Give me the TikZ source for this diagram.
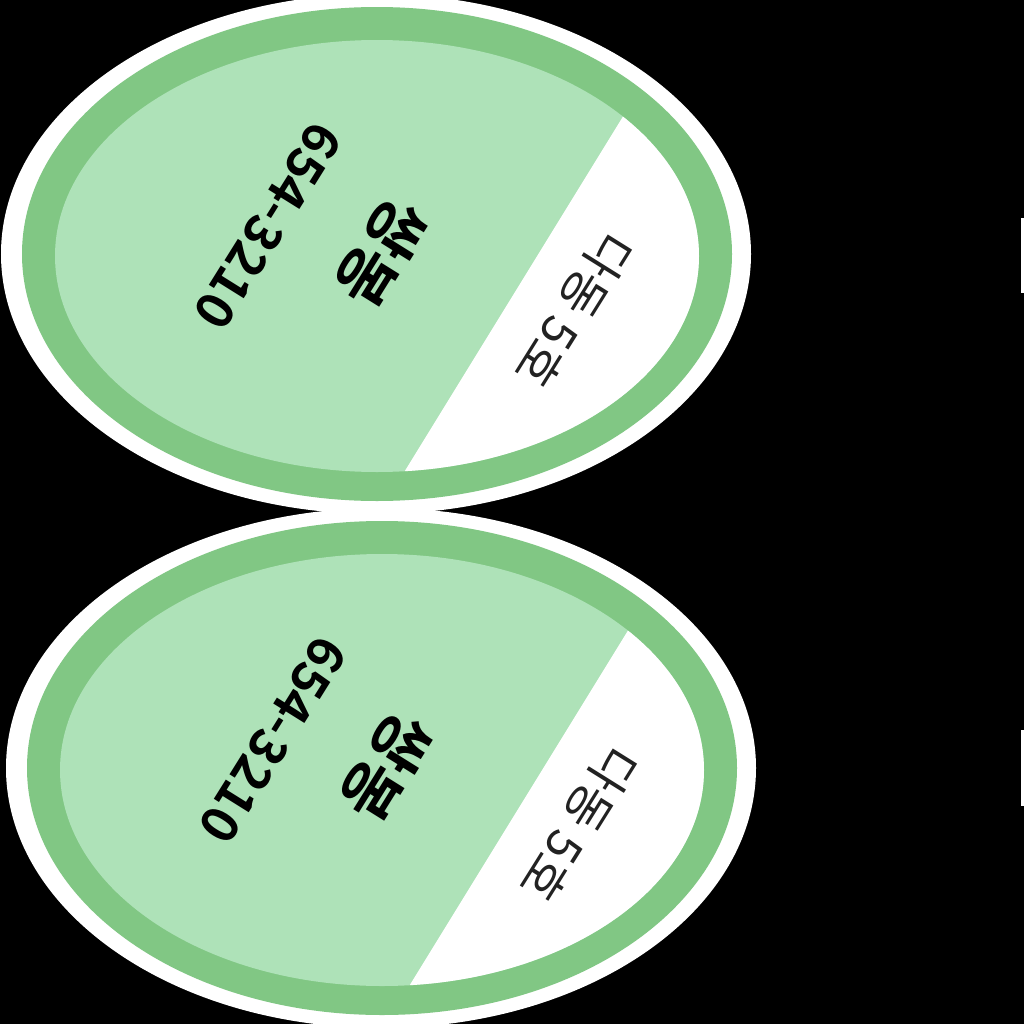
\documentclass[tikz,border=0pt]{standalone}
\usepackage{fontspec}
\newfontfamily\kr[BoldFont={Noto Sans CJK KR Bold}]{Noto Sans CJK KR}
\definecolor{ringgreen}{HTML}{81C784}
\definecolor{innergreen}{HTML}{AEE2B8}
\definecolor{darktext}{HTML}{222222}
\tikzset{
  boldlabel/.style={font=\kr\bfseries\fontsize{14.5pt}{17pt}\selectfont, text=black, inner sep=0pt, rotate=-122},
  biglabel/.style={font=\kr\bfseries\fontsize{17.5pt}{20pt}\selectfont, text=black, inner sep=0pt, rotate=-122},
  sidelabel/.style={font=\kr\fontsize{13.8pt}{16pt}\selectfont, text=darktext, inner sep=0pt, rotate=-122}
}
\begin{document}
\begin{tikzpicture}[x=0.01cm,y=-0.01cm]
\useasboundingbox (0,0) rectangle (1024,1024);
\fill[black] (0,0) rectangle (1024,1024);
% white cut-out borders
\fill[white] (376,254) ellipse [x radius=375, y radius=260];
\fill[white] (381,768) ellipse [x radius=375, y radius=260];
% right edge slivers
\fill[white] (1021,218) rectangle (1024,293);
\fill[white] (1021,730) rectangle (1024,806);
\foreach \sx/\sy/\n in {0/0/a,5/514/b}{
  \begin{scope}[shift={(\sx,\sy)}]
    \fill[ringgreen] (377,254) ellipse [x radius=355, y radius=247];
    \fill[innergreen] (377,256) ellipse [x radius=322, y radius=216];
    \begin{scope}
      \clip (377,256) ellipse [x radius=322, y radius=216];
      \fill[white] (739,-72) -- (291,656) -- (900,656) -- (900,-72) -- cycle;
    \end{scope}
    \node[biglabel] (name\n) at (382,253) {쌍봉};
    \node[boldlabel] (phone\n) at (268,226) {654-3210};
    \node[sidelabel] (room\n) at (574,310) {다동 5호};
  \end{scope}
}
\end{tikzpicture}
\end{document}
